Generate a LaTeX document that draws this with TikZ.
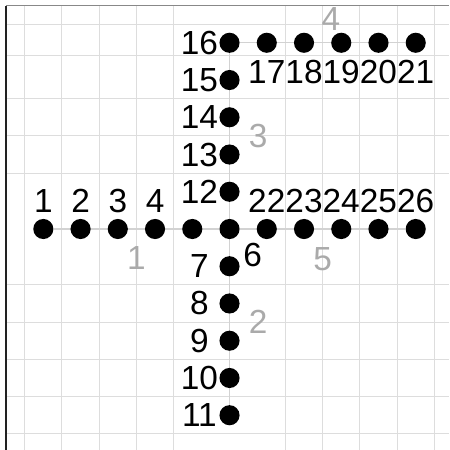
\documentclass[tikz,border=0pt]{standalone}
\usepackage{fontspec}
\setmainfont{Liberation Sans}
\usetikzlibrary{positioning, backgrounds}
\definecolor{gridgrey}{HTML}{DDDDDD}
\definecolor{edgegrey}{HTML}{D2D2D2}
\definecolor{labelgrey}{HTML}{AAAAAA}
\definecolor{framegrey}{HTML}{888888}
\definecolor{framedark}{HTML}{222222}
\newcommand{\numfont}{\fontsize{25.5}{27}\selectfont}
\tikzset{
  dot/.style={circle, fill=black, inner sep=0pt, minimum size=5.4mm},
  every label/.style={font=\numfont, inner sep=0pt},
  lblleft/.style={label={[anchor=center, label distance=5.3mm]left:#1}},
  lblabove/.style={label={[anchor=center, label distance=4.7mm]above:#1}},
  lblbelow/.style={label={[anchor=center, label distance=5.1mm]below:#1}},
  lblhub/.style={label={[anchor=center, label distance=6.5mm]-48:#1}},
  elabel/.style={font=\numfont, text=labelgrey, inner sep=0pt},
  gridline/.style={draw=gridgrey, line width=0.8pt},
  edge/.style={draw=edgegrey, line width=0.8pt},
}

\begin{document}
\begin{tikzpicture}[node distance=1cm, on grid]
\useasboundingbox (-6.163,-5.934) rectangle (5.894,6.149);
% hub
\node[dot, lblhub=6] (n6) at (0,0) {};
% left arm
\node[dot, left=of n6] (n5) {};
\node[dot, lblabove=4, left=of n5] (n4) {};
\node[dot, lblabove=3, left=of n4] (n3) {};
\node[dot, lblabove=2, left=of n3] (n2) {};
\node[dot, lblabove=1, left=of n2] (n1) {};
% lower arm
\node[dot, lblleft=7, below=of n6] (n7) {};
\node[dot, lblleft=8, below=of n7] (n8) {};
\node[dot, lblleft=9, below=of n8] (n9) {};
\node[dot, lblleft=10, below=of n9] (n10) {};
\node[dot, lblleft=11, below=of n10] (n11) {};
% upper arm
\node[dot, lblleft=12, above=of n6] (n12) {};
\node[dot, lblleft=13, above=of n12] (n13) {};
\node[dot, lblleft=14, above=of n13] (n14) {};
\node[dot, lblleft=15, above=of n14] (n15) {};
\node[dot, lblleft=16, above=of n15] (n16) {};
% top row
\node[dot, lblbelow=17, right=of n16] (n17) {};
\node[dot, lblbelow=18, right=of n17] (n18) {};
\node[dot, lblbelow=19, right=of n18] (n19) {};
\node[dot, lblbelow=20, right=of n19] (n20) {};
\node[dot, lblbelow=21, right=of n20] (n21) {};
% right arm
\node[dot, lblabove=22, right=of n6] (n22) {};
\node[dot, lblabove=23, right=of n22] (n23) {};
\node[dot, lblabove=24, right=of n23] (n24) {};
\node[dot, lblabove=25, right=of n24] (n25) {};
\node[dot, lblabove=26, right=of n25] (n26) {};

\begin{scope}[on background layer]
% grid
\draw[gridline]
  (-5.5,6) -- (-5.5,-5.934) (-4.5,6) -- (-4.5,-5.934) (-3.5,6) -- (-3.5,-5.934)
  (-2.5,6) -- (-2.5,-5.934) (-1.5,6) -- (-1.5,-5.934)
  (1.5,6) -- (1.5,-5.934) (2.5,6) -- (2.5,-5.934) (3.5,6) -- (3.5,-5.934)
  (4.5,6) -- (4.5,-5.934) (5.5,6) -- (5.5,-5.934)
  (-6,5.5) -- (5.894,5.5) (-6,4.65) -- (5.894,4.65) (-6,3.5) -- (5.894,3.5)
  (-6,2.5) -- (5.894,2.5) (-6,1.5) -- (5.894,1.5)
  (-6,-1.5) -- (5.894,-1.5) (-6,-2.5) -- (5.894,-2.5) (-6,-3.5) -- (5.894,-3.5)
  (-6,-4.5) -- (5.894,-4.5) (-6,-5.5) -- (5.894,-5.5);
\draw[framedark, line width=1pt] (-6,6) -- (-6,-5.934);
\draw[framegrey, line width=0.8pt] (-6,6) -- (5.894,6);
% edges
\draw[edge] (n1) -- node[elabel, yshift=-7.8mm] {1} (n6);
\draw[edge] (n6) -- node[elabel, xshift=7.7mm] {2} (n11);
\draw[edge] (n6) -- node[elabel, xshift=7.7mm] {3} (n16);
\draw[edge] (n16) -- node[elabel, xshift=2.2mm, yshift=6.5mm] {4} (n21);
\draw[edge] (n6) -- node[elabel, yshift=-8mm] {5} (n26);
\end{scope}
\end{tikzpicture}
\end{document}
